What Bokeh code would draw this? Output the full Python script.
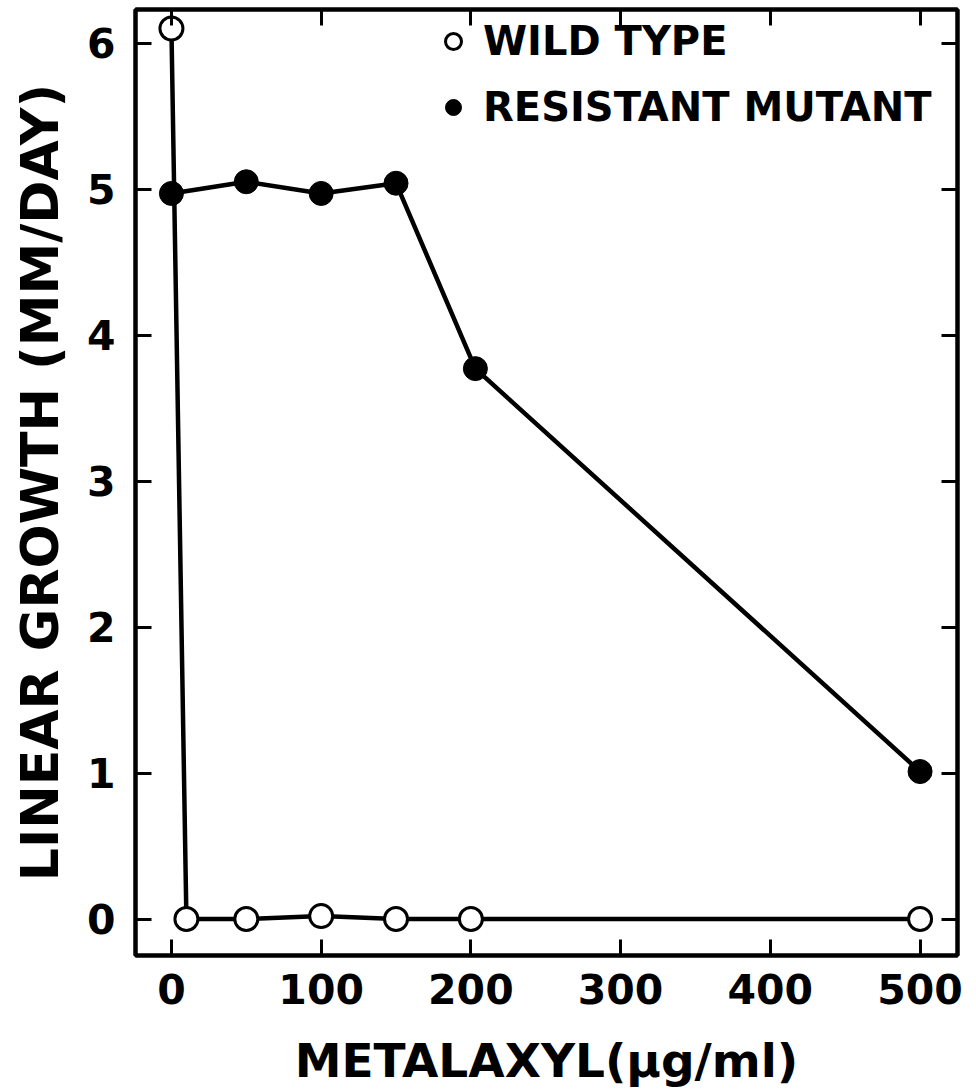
from bokeh.plotting import figure
from bokeh.models import Range1d, LinearAxis, FixedTicker, Legend, LegendItem
from bokeh.embed import file_html
from bokeh.resources import INLINE

# Data
wild_x = [0, 10, 50, 100, 150, 200, 500]
wild_y = [6.1, 0.0, 0.0, 0.02, 0.0, 0.0, 0.0]
res_x = [0, 50, 100, 150, 203, 500]
res_y = [4.97, 5.05, 4.97, 5.04, 3.77, 1.01]
x_ticks = [0, 100, 200, 300, 400, 500]
y_ticks = [0, 1, 2, 3, 4, 5, 6]
x_label = "METALAXYL(\u00b5g/ml)"
y_label = "LINEAR GROWTH (MM/DAY)"

FONT = "DejaVu Sans"

p = figure(width=976, height=1091, output_backend="svg", toolbar_location=None,
           x_range=Range1d(-24, 525), y_range=Range1d(-0.25, 6.23),
           min_border_left=135, min_border_right=19, min_border_top=9, min_border_bottom=136)
p.xgrid.visible = False
p.ygrid.visible = False
p.outline_line_color = "black"
p.outline_line_width = 4

for ax in (p.xaxis[0], p.yaxis[0]):
    ax.axis_line_width = 4
    ax.major_tick_in = 16
    ax.major_tick_out = 0
    ax.major_tick_line_width = 3
    ax.minor_tick_line_color = None
    ax.major_label_text_font = FONT
    ax.major_label_text_font_style = "bold"
    ax.major_label_text_font_size = "41px"
    ax.major_label_text_color = "black"
    ax.axis_label_text_font = FONT
    ax.axis_label_text_font_style = "bold"
    ax.axis_label_text_color = "black"

p.xaxis[0].ticker = FixedTicker(ticks=x_ticks)
p.yaxis[0].ticker = FixedTicker(ticks=y_ticks)
p.xaxis[0].axis_label = x_label
p.xaxis[0].axis_label_text_font_size = "47px"
p.xaxis[0].major_label_standoff = 18
p.xaxis[0].axis_label_standoff = 26
p.yaxis[0].axis_label = y_label
p.yaxis[0].axis_label_text_font_size = "52px"
p.yaxis[0].major_label_standoff = 20
p.yaxis[0].axis_label_standoff = 14
p.yaxis[0].major_label_orientation = 0

top = LinearAxis(ticker=FixedTicker(ticks=x_ticks), major_tick_in=16, major_tick_out=0,
                 major_tick_line_width=3, axis_line_width=4, minor_tick_line_color=None,
                 major_label_text_font_size="1px", major_label_text_color=None,
                 major_label_standoff=0)
right = LinearAxis(ticker=FixedTicker(ticks=y_ticks), major_tick_in=16, major_tick_out=0,
                   major_tick_line_width=3, axis_line_width=4, minor_tick_line_color=None,
                   major_label_text_font_size="1px", major_label_text_color=None,
                   major_label_standoff=0)
p.add_layout(top, "above")
p.add_layout(right, "right")

p.line(wild_x, wild_y, line_color="black", line_width=4.5)
p.line(res_x, res_y, line_color="black", line_width=4.5)
r_wild = p.scatter(wild_x, wild_y, marker="circle", size=23, fill_color="white",
                   line_color="black", line_width=3)
r_res = p.scatter(res_x, res_y, marker="circle", size=24, fill_color="black",
                  line_color="black", line_width=1)

legend = Legend(items=[LegendItem(label="WILD TYPE", renderers=[r_wild]),
                       LegendItem(label="RESISTANT MUTANT", renderers=[r_res])],
                location=(298, 823))
legend.border_line_color = None
legend.background_fill_alpha = 0
legend.label_text_font = FONT
legend.label_text_font_style = "bold"
legend.label_text_font_size = "40px"
legend.label_text_color = "black"
legend.glyph_width = 40
legend.glyph_height = 50
legend.label_height = 50
legend.spacing = 16
legend.margin = 0
legend.padding = 4
legend.label_standoff = 10
p.add_layout(legend)

open("out.html", "w").write(file_html(p, INLINE))
